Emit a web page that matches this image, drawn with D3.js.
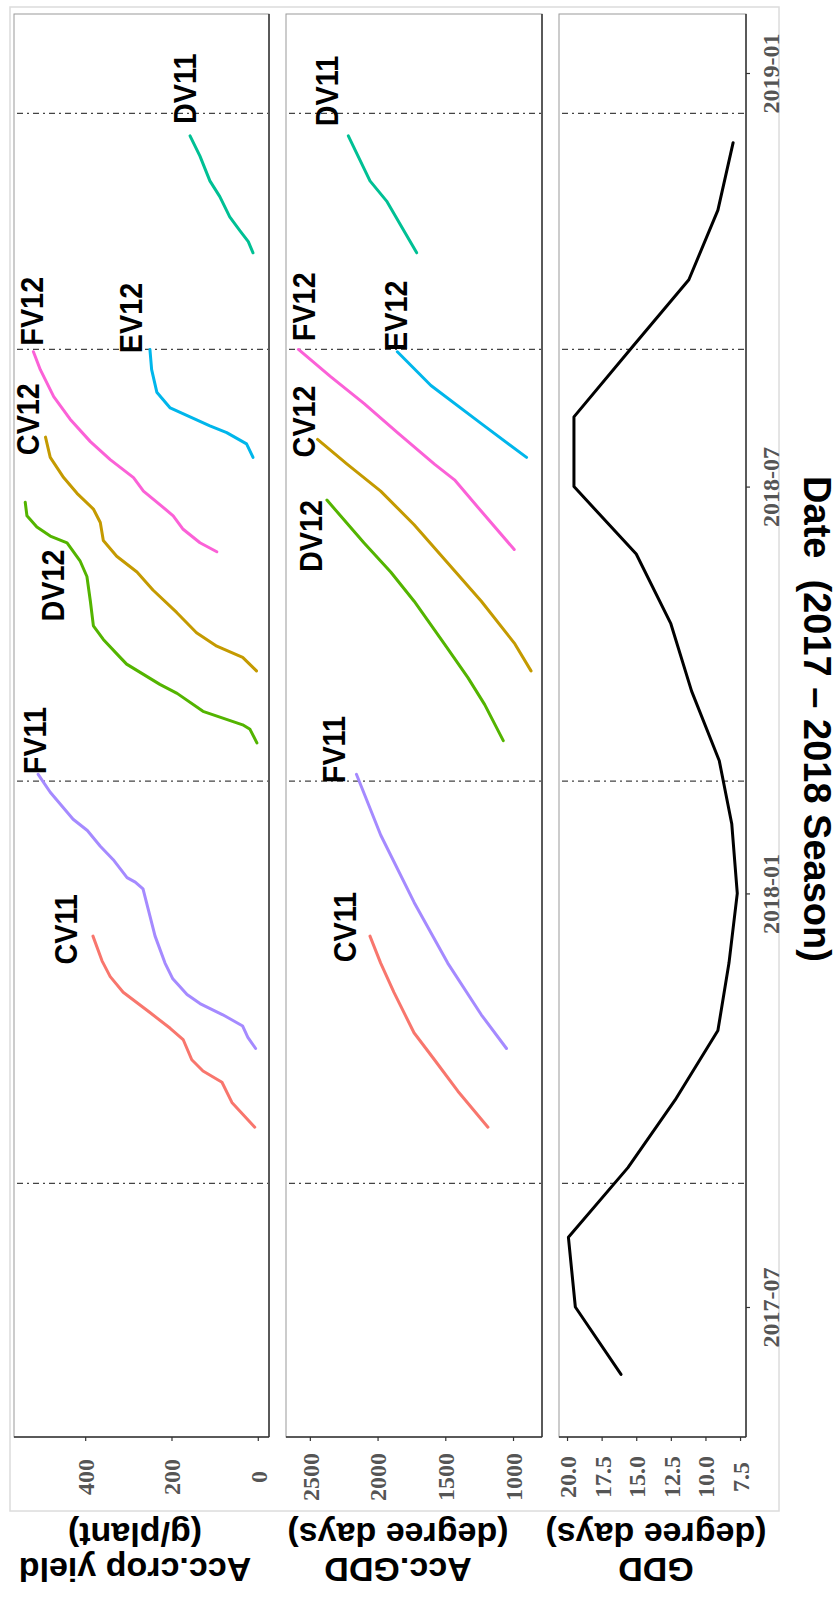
<!DOCTYPE html>
<html>
<head>
<meta charset="utf-8">
<script src="https://cdn.jsdelivr.net/npm/d3@7"></script>
<style>
  html, body { margin: 0; padding: 0; background: #fff; }
</style>
</head>
<body>
<svg id="chart" width="840" height="1598"></svg>
<script>
// ---------- data ----------
const seriesNames  = ["CV11", "CV12", "DV12", "DV11", "EV12", "FV11", "FV12"];
const seriesColors = ["#F8766D", "#C49A00", "#53B400", "#00C094", "#00B6EB", "#A58AFF", "#FB61D7"];

// accumulated crop yield (g/plant) by date
const yieldCV11 = [["2017-09-19",7],["2017-09-30",60],["2017-10-09",83],["2017-10-14",127],["2017-10-19",153],["2017-10-28",173],["2017-11-02",203],["2017-11-09",250],["2017-11-18",312],["2017-11-25",342],["2017-12-02",361],["2017-12-13",382]];
const yieldFV11 = [["2017-10-24",5],["2017-10-29",23],["2017-11-03",35],["2017-11-08",81],["2017-11-13",134],["2017-11-17",164],["2017-11-24",197],["2017-12-01",215],["2017-12-13",238],["2017-12-25",254],["2018-01-03",266],["2018-01-06",284],["2018-01-08",303],["2018-01-16",335],["2018-01-22",365],["2018-01-29",395],["2018-02-03",428],["2018-02-15",481],["2018-02-23",509]];
const yieldDV12 = [["2018-03-09",2],["2018-03-15",18],["2018-03-17",35],["2018-03-23",127],["2018-03-31",187],["2018-04-04",227],["2018-04-13",304],["2018-04-16",319],["2018-04-24",358],["2018-04-30",381],["2018-05-11",388],["2018-05-22",396],["2018-05-29",412],["2018-06-06",442],["2018-06-09",481],["2018-06-13",512],["2018-06-18",535],["2018-06-24",539]];
const yieldCV12 = [["2018-04-10",3],["2018-04-16",35],["2018-04-21",95],["2018-04-27",142],["2018-05-06",188],["2018-05-16",243],["2018-05-24",280],["2018-05-31",327],["2018-06-07",358],["2018-06-15",365],["2018-06-21",381],["2018-06-28",419],["2018-07-05",450],["2018-07-14",481],["2018-07-23",492]];
const yieldFV12 = [["2018-06-02",95],["2018-06-06",134],["2018-06-12",173],["2018-06-18",196],["2018-06-23",227],["2018-06-29",265],["2018-07-05",288],["2018-07-13",342],["2018-07-21",388],["2018-07-31",435],["2018-08-10",473],["2018-08-22",504],["2018-08-30",520]];
const yieldEV12 = [["2018-07-14",11],["2018-07-20",26],["2018-07-25",72],["2018-07-28",111],["2018-08-01",157],["2018-08-05",203],["2018-08-12",234],["2018-08-22",246],["2018-08-31",250]];
const yieldDV11 = [["2018-10-13",11],["2018-10-18",22],["2018-10-23",42],["2018-10-29",65],["2018-11-07",88],["2018-11-14",111],["2018-11-25",134],["2018-12-04",157]];

// accumulated growing degree days by date
const accCV11 = [["2017-09-19",1185],["2017-10-05",1407],["2017-10-19",1580],["2017-10-31",1731],["2017-11-18",1879],["2017-12-01",1977],["2017-12-13",2056]];
const accFV11 = [["2017-10-24",1048],["2017-11-08",1234],["2017-12-01",1482],["2017-12-28",1730],["2018-01-27",1977],["2018-02-23",2156]];
const accDV12 = [["2018-03-10",1072],["2018-03-26",1209],["2018-04-07",1333],["2018-04-22",1507],["2018-05-11",1730],["2018-05-24",1903],["2018-06-06",2101],["2018-06-25",2374]];
const accCV12 = [["2018-04-10",867],["2018-04-22",986],["2018-05-11",1234],["2018-05-28",1482],["2018-06-14",1730],["2018-06-29",1977],["2018-07-11",2225],["2018-07-22",2443]];
const accFV12 = [["2018-06-03",991],["2018-06-20",1234],["2018-07-04",1432],["2018-07-11",1580],["2018-07-25",1853],["2018-08-07",2101],["2018-08-19",2349],["2018-08-31",2584]];
const accEV12 = [["2018-07-14",900],["2018-07-29",1234],["2018-08-15",1606],["2018-08-30",1854]];
const accDV11 = [["2018-10-13",1711],["2018-10-22",1798],["2018-11-05",1933],["2018-11-14",2056],["2018-12-04",2216]];

// monthly mean GDD
const gddMonths = ["2017-06-01","2017-07-01","2017-08-01","2017-09-01","2017-10-01","2017-11-01","2017-12-01","2018-01-01","2018-02-01","2018-03-01","2018-04-01","2018-05-01","2018-06-01","2018-07-01","2018-08-01","2018-09-01","2018-10-01","2018-11-01","2018-12-01"];
const gddValues = [16.1, 19.4, 19.9, 15.6, 12.2, 9.1, 8.3, 7.7, 8.1, 9.0, 11.0, 12.5, 15.0, 19.5, 19.5, 15.3, 11.2, 9.1, 8.0];

// direct labels: date and value where each series name sits
const labelDates = ["2017-12-16","2018-07-31","2018-05-18","2018-12-25","2018-09-14","2018-03-10","2018-09-17"];
const labelYield = [446, 533, 477, 169, 296, 518, 525];
const labelAccDates = ["2017-12-17","2018-07-30","2018-06-09","2018-12-24","2018-09-15","2018-03-06","2018-09-19"];
const labelAcc = [2241, 2544, 2499, 2381, 1871, 2329, 2544];

// season boundaries and axis ticks
const seasonBreaks = ["2017-08-25","2018-02-20","2018-08-31","2018-12-14"];
const dateTicks  = ["2017-07-01","2018-01-01","2018-07-01","2019-01-01"];
const yieldTicks = [0, 200, 400];
const accTicks   = [1000, 1500, 2000, 2500];
const gddTicks   = [7.5, 10, 12.5, 15, 17.5, 20];

// ---------- layout ----------
const parse = d3.timeParse("%Y-%m-%d");
const svg = d3.select("#chart");
const panelTop = 14, panelBottom = 1437;

const t = d3.scaleTime()
  .domain([parse("2017-07-01"), parse("2019-01-01")])
  .range([1307, 73]);

const panels = [
  { x0: 14,  x1: 269, domain: [-26, 565],    ticks: yieldTicks, fmt: d3.format("d"),
    title: ["Acc.crop yield", "(g/plant)"], cx: 135 },
  { x0: 286, x1: 542, domain: [786, 2676],   ticks: accTicks,   fmt: d3.format("d"),
    title: ["Acc.GDD", "(degree days)"], cx: 398 },
  { x0: 559, x1: 746, domain: [7.07, 20.58], ticks: gddTicks,   fmt: d3.format(".1f"),
    title: ["GDD", "(degree days)"], cx: 656 }
];
panels.forEach(p => { p.x = d3.scaleLinear().domain(p.domain).range([p.x1, p.x0]); });

// outer frame
svg.append("rect").attr("x", 10).attr("y", 7).attr("width", 769).attr("height", 1504)
  .attr("fill", "none").attr("stroke", "#dcdcdc").attr("stroke-width", 1.5);

const serifFont = "'Liberation Serif','Times New Roman',serif";
const sansFont = "'Liberation Sans',Arial,Helvetica,sans-serif";

panels.forEach(p => {
  const g = svg.append("g");
  g.append("rect").attr("x", p.x0).attr("y", panelTop).attr("width", p.x1 - p.x0).attr("height", panelBottom - panelTop)
    .attr("fill", "#fff").attr("stroke", "#9a9a9a").attr("stroke-width", 1);
  // darker value-axis and date-axis edges
  g.append("line").attr("x1", p.x1).attr("x2", p.x1).attr("y1", panelTop).attr("y2", panelBottom)
    .attr("stroke", "#333").attr("stroke-width", 1.5);
  g.append("line").attr("x1", p.x0).attr("x2", p.x1).attr("y1", panelBottom).attr("y2", panelBottom)
    .attr("stroke", "#333").attr("stroke-width", 1.5);

  // season boundaries
  g.selectAll("line.brk").data(seasonBreaks).join("line").attr("class", "brk")
    .attr("x1", p.x0 + 3).attr("x2", p.x1 - 1)
    .attr("y1", d => t(parse(d))).attr("y2", d => t(parse(d)))
    .attr("stroke", "#444").attr("stroke-width", 1.3).attr("stroke-dasharray", "6,4,2,4");

  // value axis
  const ax = g.append("g").attr("transform", `translate(0,${panelBottom})`)
    .call(d3.axisBottom(p.x).tickValues(p.ticks).tickFormat(p.fmt).tickSize(4).tickSizeOuter(0));
  ax.select(".domain").remove();
  ax.selectAll(".tick line").attr("stroke", "#333").attr("stroke-width", 1.2);
  ax.selectAll(".tick text")
    .attr("x", 0).attr("y", 0).attr("dy", "0.35em")
    .attr("transform", "translate(0,40) rotate(-90)")
    .attr("text-anchor", "middle")
    .attr("fill", "#555").attr("font-family", serifFont)
    .attr("font-weight", "bold").attr("font-size", 24);

  // axis title, turned upside down
  p.title.forEach((s, i) => {
    const cy = i === 0 ? 1570 : 1535;
    svg.append("text").text(s)
      .attr("transform", `translate(${p.cx},${cy}) rotate(180)`)
      .attr("text-anchor", "middle").attr("dominant-baseline", "central")
      .attr("font-family", sansFont).attr("font-weight", "bold").attr("font-size", 34).attr("fill", "#000");
  });
});

// ---------- series ----------
const yieldSeries = [yieldCV11, yieldCV12, yieldDV12, yieldDV11, yieldEV12, yieldFV11, yieldFV12];
const accSeries   = [accCV11, accCV12, accDV12, accDV11, accEV12, accFV11, accFV12];

function drawSeries(p, list, lDates, lVals) {
  const line = d3.line().x(d => p.x(d[1])).y(d => t(parse(d[0])));
  const g = svg.append("g");
  list.forEach((s, i) => {
    g.append("path").datum(s).attr("d", line)
      .attr("fill", "none").attr("stroke", seriesColors[i])
      .attr("stroke-width", 3).attr("stroke-linejoin", "round").attr("stroke-linecap", "round");
  });
  seriesNames.forEach((n, i) => {
    g.append("text").text(n)
      .attr("transform", `translate(${p.x(lVals[i])},${t(parse(lDates[i]))}) rotate(-90) scale(0.9,1)`)
      .attr("text-anchor", "middle").attr("dominant-baseline", "central")
      .attr("font-family", sansFont).attr("font-weight", "bold").attr("font-size", 32).attr("fill", "#000");
  });
}
drawSeries(panels[0], yieldSeries, labelDates, labelYield);
drawSeries(panels[1], accSeries, labelAccDates, labelAcc);

// monthly GDD
const gddLine = d3.line().x((d, i) => panels[2].x(gddValues[i])).y(d => t(parse(d)));
svg.append("path").datum(gddMonths).attr("d", gddLine)
  .attr("fill", "none").attr("stroke", "#000").attr("stroke-width", 3)
  .attr("stroke-linejoin", "round").attr("stroke-linecap", "round");

// ---------- date axis ----------
const dax = svg.append("g").attr("transform", `translate(${panels[2].x1},0)`)
  .call(d3.axisRight(t).tickValues(dateTicks.map(parse)).tickFormat(d3.timeFormat("%Y-%m")).tickSize(4).tickSizeOuter(0));
dax.select(".domain").remove();
dax.selectAll(".tick line").attr("stroke", "#333").attr("stroke-width", 1.2);
dax.selectAll(".tick text")
  .attr("x", 0).attr("y", 0).attr("dy", "0.35em")
  .attr("transform", "translate(25,0) rotate(-90)")
  .attr("text-anchor", "middle")
  .attr("fill", "#555").attr("font-family", serifFont)
  .attr("font-weight", "bold").attr("font-size", 24);

svg.append("text").text("Date\u00a0 (2017 \u2013 2018 Season)")
  .attr("transform", "translate(817,719) rotate(90)")
  .attr("text-anchor", "middle").attr("dominant-baseline", "central")
  .attr("font-family", sansFont).attr("font-weight", "bold").attr("font-size", 38).attr("fill", "#000");
</script>
</body>
</html>
